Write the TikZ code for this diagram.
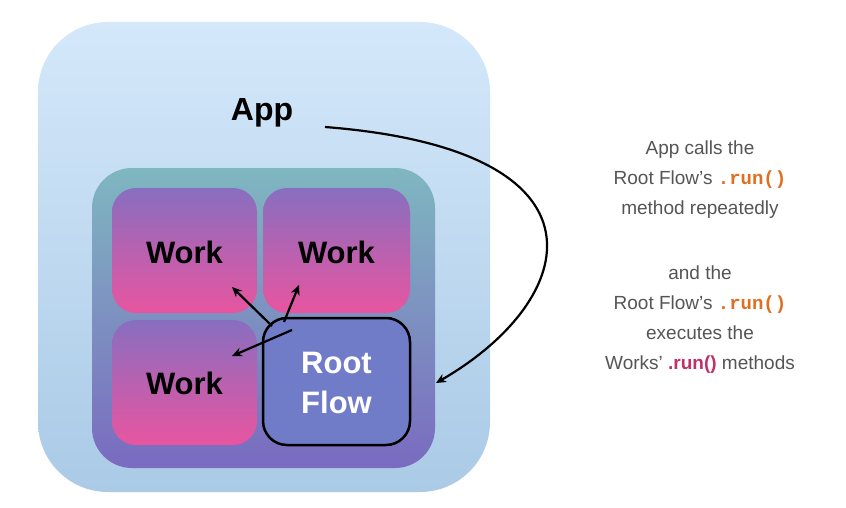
\documentclass[tikz,border=0pt]{standalone}
\usepackage{fontspec}
\setmainfont{Liberation Sans}
\setmonofont{Liberation Mono}
\usetikzlibrary{arrows.meta}
\definecolor{txt}{HTML}{555555}
\definecolor{runo}{HTML}{E07020}
\definecolor{runm}{HTML}{C0306A}
\tikzset{
 workbox/.style={rounded corners=24pt, top color={rgb,255:red,136;green,110;blue,192}, bottom color={rgb,255:red,232;green,85;blue,160}},
 worktxt/.style={font=\fontsize{31}{34}\selectfont\bfseries, text=black},
 arr/.style={-{Stealth[length=10pt,width=9pt]}, line width=2.2pt},
 note/.style={align=center, text=txt, font=\fontsize{19}{30}\selectfont}
}
\newcommand{\orun}{\textcolor{runo}{\ttfamily\bfseries .run()}}
\begin{document}
\begin{tikzpicture}[x=1pt,y=-1pt]
\useasboundingbox[fill=white] (0,0) rectangle (846,508);
\shade[rounded corners=70pt, top color={rgb,255:red,212;green,232;blue,250}, bottom color={rgb,255:red,170;green,202;blue,230}] (38,22) rectangle (490,492);
\shade[rounded corners=40pt, top color={rgb,255:red,127;green,183;blue,192}, bottom color={rgb,255:red,122;green,106;blue,192}] (92,168) rectangle (435,468);
\shade[workbox] (112,188) rectangle (257,313);
\shade[workbox] (263,188) rectangle (410,313);
\shade[workbox] (112,320) rectangle (257,445);
\node[worktxt] (w1) at (184.5,252) {Work};
\node[worktxt] (w2) at (336.5,252) {Work};
\node[worktxt] (w3) at (184.5,383) {Work};
\draw[line width=2.5pt, rounded corners=24pt, fill={rgb,255:red,112;green,124;blue,200}] (263,318) rectangle (410,445);
\node[align=center, text=white, font=\fontsize{31}{40}\selectfont\bfseries] (rf) at (336.5,383) {Root\\Flow};
\node[font=\fontsize{32}{36}\selectfont\bfseries] (app) at (262,113) {App};
\coordinate (a0) at (325,127);
\coordinate (a1) at (436,383);
\draw[arr] (a0) .. controls (620,150) and (580,300) .. (a1);
\coordinate (s1) at (272,326);
\coordinate (s2) at (284,322);
\coordinate (s3) at (292,330);
\coordinate (t1) at (232,287);
\coordinate (t2) at (299,285);
\coordinate (t3) at (232,356);
\draw[arr] (s1) -- (t1);
\draw[arr] (s2) -- (t2);
\draw[arr] (s3) -- (t3);
\node[note] (n1) at (700,180) {App calls the\\Root Flow's \orun\\method repeatedly};
\node[note] (n2) at (700,320) {and the\\Root Flow's \orun\\executes the\\Works' \textcolor{runm}{\bfseries .run()} methods};
\end{tikzpicture}
\end{document}
